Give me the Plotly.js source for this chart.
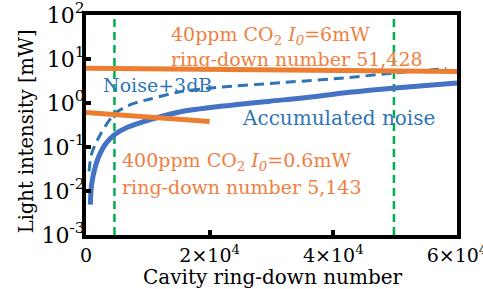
<!DOCTYPE html>
<html>
<head>
<meta charset="utf-8">
<script src="https://cdn.plot.ly/plotly-3.0.1.min.js"></script>
<style>html,body{margin:0;padding:0;background:#fff;}#chart{width:483px;height:289px;}</style>
</head>
<body>
<div id="chart"></div>
<script>
// Ring-down numbers (x) and light intensities in mW (y)
const noiseN   = [700, 900, 1600, 2200, 3100, 4600, 6700, 10400, 15500, 21700, 29700, 35100, 42600, 50000, 60000];
const noiseVal = [0.0049, 0.014, 0.04, 0.067, 0.114, 0.19, 0.28, 0.42, 0.64, 0.84, 1.1, 1.3, 1.75, 2.2, 2.85];
const noise3dbN   = [500, 900, 2300, 4700, 7500, 10400, 15200, 21200, 31900, 42600, 49600, 58300];
const noise3dbVal = [0.028, 0.07, 0.19, 0.58, 0.95, 1.23, 1.8, 2.25, 2.92, 3.8, 4.8, 6.0];
const co2_40N   = [0, 60000];
const co2_40Val = [6.2, 5.2];
const co2_400N   = [0, 20000];
const co2_400Val = [0.61, 0.38];
const markerN = [4600, 49800];
const yRange = [0.001, 100];
const xTickVals = [0, 20000, 40000, 60000];
const yTickVals = [0.001, 0.01, 0.1, 1, 10, 100];
const yTickText = ['10<sup>-3</sup>', '10<sup>-2</sup>', '10<sup>-1</sup>', '10<sup>0</sup>', '10<sup>1</sup>', '10<sup>2</sup>'];
const xTitle = 'Cavity ring-down number';
const yTitle = 'Light intensity [mW]';

const orange = '#ED7D31', blueLine = '#4472C4', blueDash = '#2E75B6', green = '#00B050', blueText = '#2E75B6', orangeText = '#EF8040';

const traces = [
  {x: [markerN[0], markerN[0]], y: yRange, mode:'lines', line:{color:green, width:2.5, dash:'8px,5px'}},
  {x: [markerN[1], markerN[1]], y: yRange, mode:'lines', line:{color:green, width:2.5, dash:'8px,5px'}},
  {x: noise3dbN, y: noise3dbVal, mode:'lines', line:{color:blueDash, width:3, dash:'10px,6px', shape:'spline', smoothing:0.8}},
  {x: noiseN, y: noiseVal, mode:'lines', line:{color:blueLine, width:5, shape:'spline', smoothing:0.8}},
  {x: co2_40N, y: co2_40Val, mode:'lines', line:{color:orange, width:5}},
  {x: co2_400N, y: co2_400Val, mode:'lines', line:{color:orange, width:5}}
];

const F = 'DejaVu Serif, serif';
const ann = (text, x, y, color, size) => ({text, x, y, xref:'paper', yref:'paper', xanchor:'left', yanchor:'middle', showarrow:false, borderpad:0, font:{family:F, size:size || 19, color}});

const layout = {
  width:483, height:289,
  margin:{l:86, r:26, t:15, b:54},
  paper_bgcolor:'#fff', plot_bgcolor:'#fff',
  showlegend:false,
  xaxis:{
    range:[0, 60000], tickvals:xTickVals, exponentformat:'power',
    showline:true, mirror:true, linecolor:'#000', linewidth:4,
    ticks:'inside', ticklen:5, tickwidth:4, tickcolor:'#000',
    showgrid:false, zeroline:false, ticklabeloverflow:'allow', ticklabelstandoff:0,
    tickfont:{family:F, size:19, color:'#000'}
  },
  yaxis:{
    type:'log', range:[-3, 2], tickvals:yTickVals, ticktext:yTickText,
    showline:true, mirror:true, linecolor:'#000', linewidth:4,
    ticks:'inside', ticklen:5, tickwidth:4, tickcolor:'#000',
    showgrid:false, zeroline:false, ticklabeloverflow:'allow', ticklabelstandoff:-7,
    tickfont:{family:F, size:22, color:'#000'}
  },
  annotations:[
    {text:xTitle, x:0.503, y:-0.19, xref:'paper', yref:'paper', xanchor:'center', yanchor:'middle', showarrow:false, borderpad:0, font:{family:F, size:20, color:'#000'}},
    {text:yTitle, x:-0.158, y:0.473, xref:'paper', yref:'paper', xanchor:'center', yanchor:'middle', textangle:-90, showarrow:false, borderpad:0, font:{family:F, size:19.5, color:'#000'}},
    ann('40ppm CO<sub>2</sub> <i>I<sub>0</sub></i>=6mW', 0.226, 0.905, orangeText),
    ann('ring-down number 51,428', 0.226, 0.80, orangeText),
    ann('Noise+3dB', 0.043, 0.68, blueText),
    ann('Accumulated noise', 0.418, 0.534, blueText, 20),
    ann('400ppm CO<sub>2</sub> <i>I<sub>0</sub></i>=0.6mW', 0.095, 0.334, orangeText),
    ann('ring-down number 5,143', 0.095, 0.22, orangeText)
  ]
};

Plotly.newPlot('chart', traces, layout, {displayModeBar:false, staticPlot:true});
</script>
</body>
</html>
